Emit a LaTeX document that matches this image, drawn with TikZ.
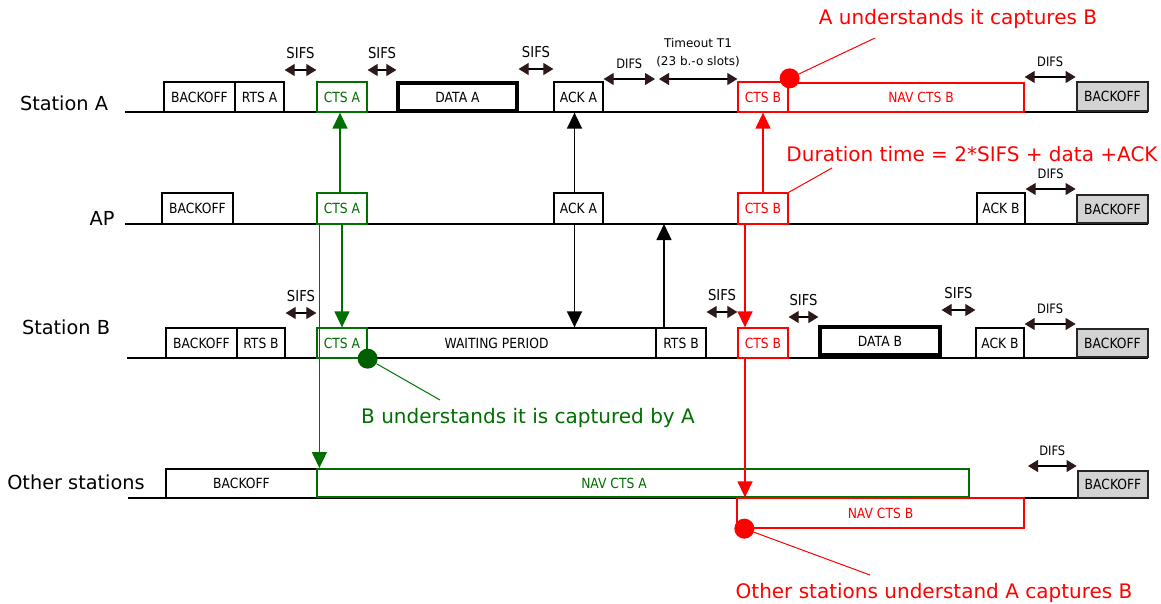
\documentclass[tikz,border=0pt]{standalone}
\usepackage{fontspec}
\setmainfont{DejaVu Sans}
\newfontfamily\condfont[FakeStretch=0.88]{DejaVu Sans}
\usetikzlibrary{arrows.meta,calc}
\definecolor{dkgreen}{RGB}{0,110,0}
\definecolor{dotgreen}{RGB}{0,95,0}
\definecolor{tipbrown}{RGB}{45,25,25}
\definecolor{bogray}{RGB}{211,211,211}

% a slot on a timeline: [style]{name}{x1}{x2}{ytop}{ybottom}{text}
\newcommand\slotnode[7][slot]{%
  \node[#1, minimum width={(#4-#3)*1pt}, minimum height={(#6-#5)*1pt}]
    (#2) at ({(#3+#4)/2},{(#5+#6)/2}) {#7};}

\begin{document}
\begin{tikzpicture}[x=1pt,y=-1pt,
  slot/.style={draw, fill=white, line width=1.3pt, inner sep=0pt,
    font=\condfont\fontsize{14}{14}\selectfont},
  thickslot/.style={draw, fill=white, line width=3.2pt, inner sep=0pt,
    font=\condfont\fontsize{14}{14}\selectfont},
  grayslot/.style={draw=black!85, fill=bogray, line width=2.8pt, inner sep=0pt,
    font=\condfont\fontsize{14}{14}\selectfont},
  gslot/.style={slot, draw=dkgreen, text=dkgreen},
  rslot/.style={slot, draw=red, text=red},
  tl/.style={line width=1.3pt},
  span/.style={line width=1.1pt,
    {Triangle[length=10pt,width=12pt,color=tipbrown]}-{Triangle[length=10pt,width=12pt,color=tipbrown]}},
  sifs/.style={midway, above=11pt, inner sep=0pt, font=\condfont\fontsize{15}{15}\selectfont},
  difs/.style={midway, above=10pt, inner sep=0pt, font=\condfont\fontsize{13}{13}\selectfont},
  rowlbl/.style={anchor=base, inner sep=0pt, font=\fontsize{19.3}{20}\selectfont},
  note/.style={anchor=base, inner sep=0pt, font=\fontsize{20}{22}\selectfont},
  conn/.style={line width=1.4pt, -{Triangle[length=16pt,width=15pt]}},
  dot/.style={circle, inner sep=0pt, minimum size=20pt},
  leader/.style={line width=1pt}
]
\useasboundingbox (0,0) rectangle (1161,604);

% ---- row labels ----
\node[rowlbl] (lA) at (64,111) {Station A};
\node[rowlbl] (lP) at (102,225) {AP};
\node[rowlbl] (lB) at (66,334) {Station B};
\node[rowlbl] (lO) at (76,489) {Other stations};

% ---- timelines ----
\coordinate (A-l) at (125,112); \coordinate (A-r) at (1148,112);
\coordinate (P-l) at (125,224); \coordinate (P-r) at (1148,224);
\coordinate (B-l) at (127,358); \coordinate (B-r) at (1148,358);
\coordinate (O-l) at (128,498); \coordinate (O-r) at (1148,498);
\draw[tl] (A-l) -- (A-r);
\draw[tl] (P-l) -- (P-r);
\draw[tl] (B-l) -- (B-r);
\draw[tl] (O-l) -- (O-r);

% ---- Station A ----
\slotnode{A-bo}{164}{235}{82}{112}{BACKOFF}
\slotnode{A-rts}{235}{284}{82}{112}{RTS A}
\slotnode[gslot]{A-cts}{317}{367}{82}{112}{CTS A}
\slotnode[thickslot]{A-data}{398}{517}{83}{111}{DATA A}
\slotnode{A-ack}{554}{603}{82}{112}{ACK A}
\slotnode[rslot]{A-nav}{788}{1024}{83}{112}{\hspace*{30pt}NAV CTS B}
\slotnode[rslot]{A-ctsb}{738}{788}{82}{112}{CTS B}
\slotnode[grayslot]{A-bo2}{1077}{1148}{82}{111}{BACKOFF}

% ---- AP ----
\slotnode{P-bo}{162}{233}{193}{224}{BACKOFF}
\slotnode[gslot]{P-cts}{317}{367}{193}{224}{CTS A}
\slotnode{P-ack}{554}{603}{193}{224}{ACK A}
\slotnode[rslot]{P-ctsb}{738}{788}{193}{224}{CTS B}
\slotnode{P-ackb}{977}{1025}{193}{224}{ACK B}
\slotnode[grayslot]{P-bo2}{1077}{1148}{195}{223}{BACKOFF}

% ---- Station B ----
\slotnode{B-bo}{166}{237}{328}{358}{BACKOFF}
\slotnode{B-rts}{237}{285}{328}{358}{RTS B}
\slotnode{B-wait}{367}{656}{328}{358}{WAITING PERIOD\hspace*{30pt}}
\slotnode[gslot]{B-cts}{317}{367}{328}{358}{CTS A}
\slotnode{B-rtsb}{656}{706}{328}{358}{RTS B}
\slotnode[rslot]{B-ctsb}{738}{788}{328}{358}{CTS B}
\slotnode[thickslot]{B-data}{820}{940}{327}{355}{DATA B}
\slotnode{B-ack}{976}{1024}{328}{358}{ACK B}
\slotnode[grayslot]{B-bo2}{1077}{1148}{329}{357}{BACKOFF}

% ---- Other stations ----
\slotnode{O-bo}{166}{317}{469}{498}{BACKOFF}
\slotnode[gslot, line width=2pt]{O-nav}{317}{969}{469}{497}{NAV CTS A\hspace*{58pt}}
\slotnode[rslot]{O-navb}{737}{1024}{498}{528}{NAV CTS B}
\slotnode[grayslot]{O-bo2}{1078}{1148}{471}{498}{BACKOFF}

% ---- inter-frame spaces, Station A ----
\draw[span] (A-rts.east |- 0,70) -- node[sifs]{SIFS} (A-cts.west |- 0,70);
\draw[span] (A-cts.east |- 0,70) -- node[sifs]{SIFS} (A-data.west |- 0,70);
\draw[span] (A-data.east |- 0,69) -- node[sifs]{SIFS} (A-ack.west |- 0,69);
\coordinate (difsA-end) at (655,79);
\coordinate (t1-start) at (659,79);
\draw[span] (A-ack.east |- 0,79) -- node[difs]{DIFS} (difsA-end);
\draw[span] (t1-start) -- (A-ctsb.west |- 0,79);
\node[align=center, inner sep=0pt, font=\fontsize{12}{18}\selectfont] (t1) at (698,53)
  {Timeout T1\\(23 b.-o slots)};
\draw[span] (A-nav.east |- 0,77) -- node[difs]{DIFS} (A-bo2.west |- 0,77);

% ---- AP ----
\draw[span] (P-ackb.east |- 0,189) -- node[difs]{DIFS} (P-bo2.west |- 0,189);

% ---- Station B ----
\draw[span] (B-rts.east |- 0,313) -- node[sifs]{SIFS} (B-cts.west |- 0,313);
\draw[span] (B-rtsb.east |- 0,312) -- node[sifs]{SIFS} (B-ctsb.west |- 0,312);
\draw[span] (B-ctsb.east |- 0,317) -- node[sifs]{SIFS} (B-data.west |- 0,317);
\draw[span] (B-data.east |- 0,310) -- node[sifs]{SIFS} (B-ack.west |- 0,310);
\draw[span] (B-ack.east |- 0,324) -- node[difs]{DIFS} (B-bo2.west |- 0,324);

% ---- Other stations ----
\coordinate (difsO-start) at (1028,466);
\draw[span] (difsO-start) -- node[difs]{DIFS} (O-bo2.west |- 0,466);

% ---- transmissions ----
\draw[conn, dkgreen] ([xshift=-2pt]P-cts.north) -- ([xshift=-2pt]A-cts.south);
\draw[conn, dkgreen] (P-cts.south) -- (B-cts.north);
\draw[conn, dkgreen] ([xshift=3pt]P-cts.south west) -- ([xshift=3pt]P-cts.south west |- O-nav.north);
\draw[conn] ([xshift=-4pt]P-ack.north) -- ([xshift=-4pt]A-ack.south);
\draw[conn] ([xshift=-4pt]P-ack.south) -- ([xshift=-4pt]P-ack.south |- B-wait.north);
\draw[conn] ([xshift=-17pt]B-rtsb.north) -- ([xshift=-17pt]B-rtsb.north |- P-l);
\draw[conn, red] (P-ctsb.north) -- (A-ctsb.south);
\draw[conn, red] ([xshift=-18pt]P-ctsb.south) -- ([xshift=-18pt]B-ctsb.north);
\draw[conn, red] ([xshift=-18pt]B-ctsb.south) -- ([xshift=-18pt]B-ctsb.south |- O-navb.north);

% ---- annotations ----
\node[dot, fill=red] (dotA) at ([xshift=1pt,yshift=3pt]A-ctsb.north east) {};
\node[note, text=red] (nA) at (958,25) {A understands it captures B};
\coordinate (nA-end) at (875,38);
\draw[leader, red] (dotA) -- (nA-end);

\node[note, text=red] (nD) at (972,162) {Duration time = 2*SIFS + data +ACK};
\coordinate (nD-end) at (832,168);
\draw[leader, red] (P-ctsb.north east) -- (nD-end);

\node[dot, fill=dotgreen] (dotB) at (B-cts.south east) {};
\node[note, text=dkgreen] (nB) at (528,423) {B understands it is captured by A};
\coordinate (nB-end) at (440,400);
\draw[leader, dkgreen] (dotB) -- (nB-end);

\node[dot, fill=red] (dotO) at ([xshift=8pt]O-navb.south west) {};
\node[note, text=red] (nO) at (934,598) {Other stations understand A captures B};
\coordinate (nO-end) at (870,575);
\draw[leader, red] (dotO) -- (nO-end);
\end{tikzpicture}
\end{document}
